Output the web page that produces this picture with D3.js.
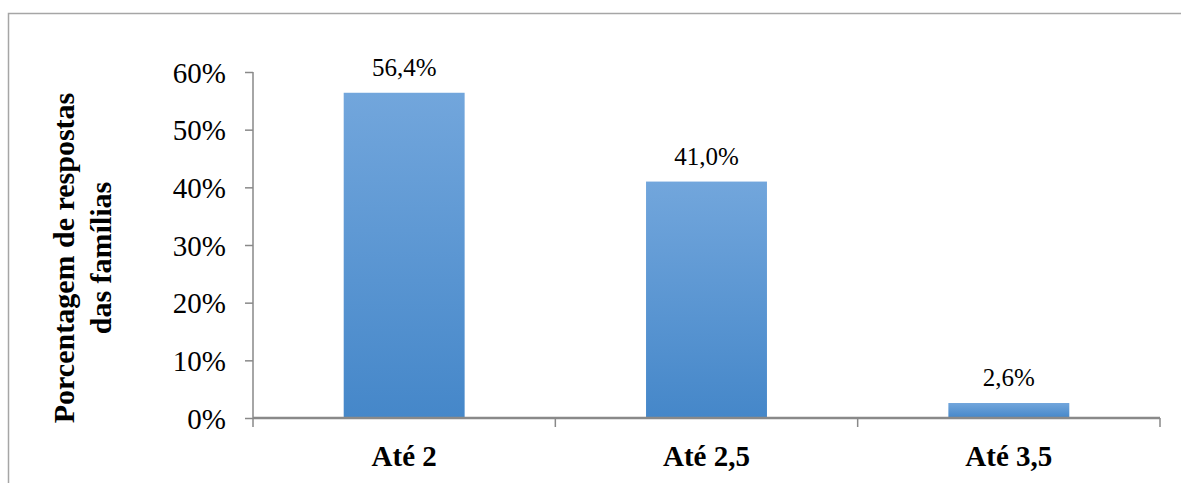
<!DOCTYPE html>
<html>
<head>
<meta charset="utf-8">
<script src="https://cdn.jsdelivr.net/npm/d3@7"></script>
<style>
  body { margin: 0; background: #fff; }
  svg { display: block; }
  text { font-family: "Liberation Serif", "Times New Roman", serif; fill: #000; }
</style>
</head>
<body>
<svg id="chart" width="1181" height="483"></svg>
<script>
// data
var categories = ["Até 2", "Até 2,5", "Até 3,5"];
var values = [56.4, 41.0, 2.6];
var valueLabels = ["56,4%", "41,0%", "2,6%"];
var yTicks = [0, 10, 20, 30, 40, 50, 60];

var svg = d3.select("#chart");
var plotLeft = 253, plotRight = 1160, plotTop = 72, plotBottom = 418;

// outer frame (cut off on the right and bottom in the original)
svg.append("rect")
    .attr("x", 8.5).attr("y", 13.5)
    .attr("width", 1200).attr("height", 500)
    .attr("fill", "none").attr("stroke", "#a6a6a6").attr("stroke-width", 1.5);

var defs = svg.append("defs");
var grad = defs.append("linearGradient")
    .attr("id", "barGrad").attr("x1", 0).attr("y1", 0).attr("x2", 0).attr("y2", 1);
grad.append("stop").attr("offset", "0%").attr("stop-color", "#72a6dc");
grad.append("stop").attr("offset", "100%").attr("stop-color", "#4587c9");

var x = d3.scaleBand().domain(categories).range([plotLeft, plotRight]).paddingInner(0.6).paddingOuter(0.3);
var y = d3.scaleLinear().domain([0, 60]).range([plotBottom, plotTop]);

// bars
svg.selectAll("rect.bar")
    .data(values)
    .enter().append("rect")
    .attr("class", "bar")
    .attr("x", function (d, i) { return x(categories[i]); })
    .attr("y", function (d) { return y(d); })
    .attr("width", x.bandwidth())
    .attr("height", function (d) { return y(0) - y(d); })
    .attr("fill", "url(#barGrad)");

// data labels
svg.selectAll("text.val")
    .data(values)
    .enter().append("text")
    .attr("class", "val")
    .attr("x", function (d, i) { return x(categories[i]) + x.bandwidth() / 2; })
    .attr("y", function (d) { return y(d) - 17; })
    .attr("text-anchor", "middle")
    .attr("font-size", "25px")
    .text(function (d, i) { return valueLabels[i]; });

// y axis
var yAxis = svg.append("g").attr("transform", "translate(" + plotLeft + ",0)")
    .call(d3.axisLeft(y).tickValues(yTicks).tickSize(8).tickPadding(19)
        .tickFormat(function (d) { return d + "%"; }));
yAxis.select(".domain").attr("stroke", "#898989").attr("stroke-width", 1.5).attr("d", "M0," + plotTop + "V" + plotBottom);
yAxis.selectAll(".tick line").attr("stroke", "#898989").attr("stroke-width", 1.5);
yAxis.selectAll(".tick text").attr("font-size", "29px").attr("fill", "#000")
    .attr("font-family", "Liberation Serif, serif").attr("dy", "0.35em");

// x axis
var xg = svg.append("g").attr("transform", "translate(0," + plotBottom + ")");
xg.append("line").attr("x1", plotLeft).attr("x2", plotRight)
    .attr("stroke", "#898989").attr("stroke-width", 2.5);
xg.selectAll("line.tick")
    .data(d3.range(categories.length + 1))
    .enter().append("line")
    .attr("class", "tick")
    .attr("x1", function (i) { return plotLeft + x.step() * i; })
    .attr("x2", function (i) { return plotLeft + x.step() * i; })
    .attr("y1", 0).attr("y2", 9)
    .attr("stroke", "#898989").attr("stroke-width", 1.5);
xg.selectAll("text.cat")
    .data(categories)
    .enter().append("text")
    .attr("class", "cat")
    .attr("x", function (d) { return x(d) + x.bandwidth() / 2; })
    .attr("y", 48)
    .attr("text-anchor", "middle")
    .attr("font-size", "29px")
    .attr("font-weight", "bold")
    .text(function (d) { return d; });

// y axis title
var title = svg.append("text")
    .attr("transform", "translate(74,258) rotate(-90)")
    .attr("text-anchor", "middle")
    .attr("font-size", "30px")
    .attr("font-weight", "bold");
title.append("tspan").attr("x", 0).attr("dy", 0).text("Porcentagem de respostas");
title.append("tspan").attr("x", 0).attr("dy", 37).text("das famílias");
</script>
</body>
</html>
